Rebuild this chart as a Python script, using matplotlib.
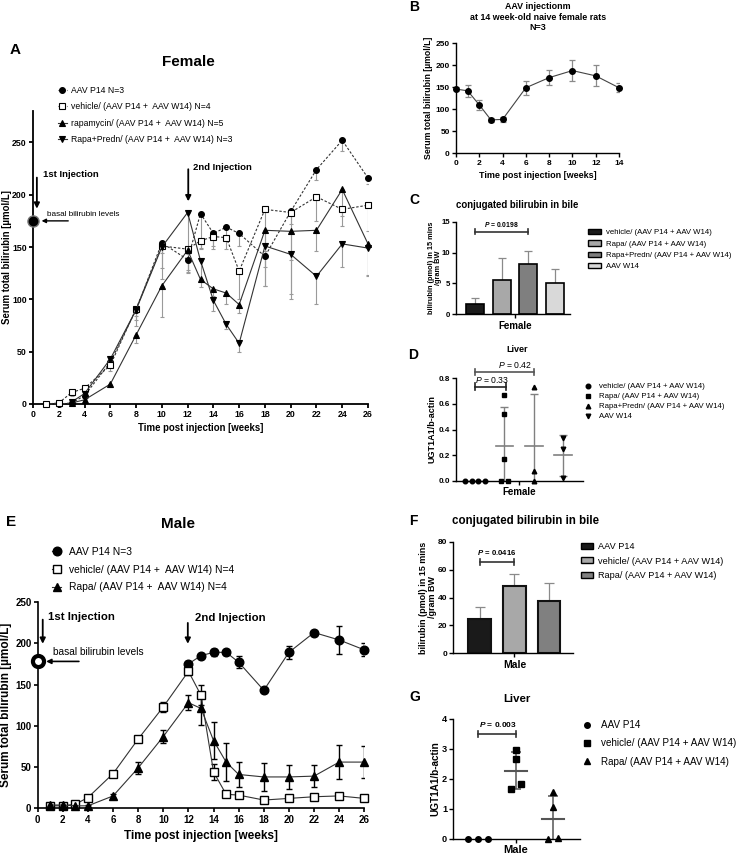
import numpy as np
import matplotlib
matplotlib.use("Agg")
import matplotlib.pyplot as plt
from matplotlib.lines import Line2D
from matplotlib.patches import Patch

plt.rcParams['font.family'] = ['Liberation Sans', 'DejaVu Sans']
plt.rcParams['mathtext.fontset'] = 'custom'
plt.rcParams['mathtext.rm'] = 'Liberation Sans'
plt.rcParams['mathtext.it'] = 'Liberation Sans:italic'
plt.rcParams['mathtext.bfit'] = 'Liberation Sans:italic:bold'

# ---- A: female time course ----
fa_wk = [1, 2, 3, 4, 6, 8, 10, 12, 13, 14, 15, 16, 18, 20, 22, 24, 26]
fa_p14 = [0, 0, 1, 8, 40, 90, 154, 138, 182, 163, 169, 163, 141, 184, 224, 252, 216]
fa_p14_err = [0, 0, 0, 2, 3, 6, 10, 12, 33, 12, 12, 12, 28, 12, 10, 10, 6]
fa_veh = [0, 1, 11, 15, 37, 91, 151, 148, 156, 160, 159, 127, 186, 183, 198, 186, 190]
fa_veh_err = [0, 1, 3, 3, 5, 16, 32, 20, 8, 12, 11, 27, 40, 45, 23, 6, 25]
fa_wk_r = [3, 4, 6, 8, 10, 12, 13, 14, 15, 16, 18, 20, 22, 24, 26]
fa_rapa = [1, 4, 19, 66, 113, 147, 119, 110, 106, 95, 166, 165, 166, 205, 153]
fa_rapa_err = [1, 2, 3, 8, 30, 22, 7, 7, 10, 8, 35, 60, 20, 35, 30]
fa_rp = [2, 10, 43, 90, 150, 183, 137, 99, 76, 58, 151, 143, 122, 153, 149]
fa_rp_err = [1, 3, 5, 10, 20, 40, 20, 10, 4, 8, 38, 43, 26, 22, 27]
fa_basal = 175
fa_labels = ["AAV P14 N=3", "vehicle/ (AAV P14 +  AAV W14) N=4",
             "rapamycin/ (AAV P14 +  AAV W14) N=5", "Rapa+Predn/ (AAV P14 +  AAV W14) N=3"]

# ---- B: naive female rats ----
fb_wk = [0, 1, 2, 3, 4, 6, 8, 10, 12, 14]
fb_bili = [146, 142, 110, 76, 77, 149, 172, 188, 176, 149]
fb_err = [5, 13, 12, 5, 5, 16, 17, 24, 24, 10]

# ---- C: female bile ----
fc_labels = ["vehicle/ (AAV P14 + AAV W14)", "Rapa/ (AAV P14 + AAV W14)",
             "Rapa+Predn/ (AAV P14 + AAV W14)", "AAV W14"]
fc_vals = [1.6, 5.6, 8.1, 5.1]
fc_err = [1.0, 3.6, 2.15, 2.3]
fc_p = "0.0198"

# ---- D: female liver ----
fd_labels = fc_labels
fd_groups = [[0, 0, 0, 0], [0.67, 0.52, 0.17, 0, 0], [0.735, 0.078, 0], [0.33, 0.245, 0.018]]
fd_p = ["0.33", "0.42"]

# ---- E: male time course ----
em_wk_p14 = [12, 13, 14, 15, 16, 18, 20, 22, 24, 26]
em_p14 = [175, 185, 189, 189, 177, 143, 189, 213, 204, 192]
em_p14_err = [3, 2, 4, 3, 7, 2, 8, 2, 17, 8]
em_wk = [1, 2, 3, 4, 6, 8, 10, 12, 13, 14, 15, 16, 18, 20, 22, 24, 26]
em_veh = [3, 3, 5, 13, 42, 84, 123, 166, 137, 44, 17, 16, 10, 12, 14, 15, 12]
em_veh_err = [1, 1, 1, 2, 2, 3, 6, 4, 12, 10, 2, 2, 2, 2, 2, 2, 2]
em_rapa = [4, 4, 3, 3, 15, 49, 87, 128, 121, 82, 56, 41, 38, 38, 39, 56, 56]
em_rapa_err = [1, 1, 1, 1, 2, 7, 8, 9, 20, 22, 23, 15, 17, 15, 13, 21, 19]
em_basal = 178
em_labels = ["AAV P14 N=3", "vehicle/ (AAV P14 +  AAV W14) N=4", "Rapa/ (AAV P14 +  AAV W14) N=4"]

# ---- F: male bile ----
mf_labels = ["AAV P14", "vehicle/ (AAV P14 + AAV W14)", "Rapa/ (AAV P14 + AAV W14)"]
mf_vals = [24.4, 48.3, 37.7]
mf_err = [9.0, 8.3, 12.5]
mf_p = "0.0416"

# ---- G: male liver ----
mg_labels = mf_labels
mg_groups = [[0, 0, 0], [2.97, 2.66, 1.83, 1.67], [1.57, 1.07, 0.04, 0]]
mg_p = "0.003"

W, H = 739, 861
fig = plt.figure(figsize=(W / 100, H / 100), dpi=100)


def px_ax(x0, x1, y0, y1):
    return fig.add_axes([x0 / W, 1 - y1 / H, (x1 - x0) / W, (y1 - y0) / H])


def ftext(x, y, s, **kw):
    fig.text(x / W, 1 - y / H, s, **kw)


def finish(ax, fs, lw=1.0, tl=3):
    ax.spines[['top', 'right']].set_visible(False)
    ax.spines[['left', 'bottom']].set_linewidth(lw)
    ax.tick_params(length=tl, width=lw, labelsize=fs, pad=1.5)
    plt.setp(ax.get_xticklabels() + ax.get_yticklabels(), fontweight='bold')


def leg(handles, labels, x, y, fs, **kw):
    fig.legend(handles, labels, loc='upper left', bbox_to_anchor=(x / W, 1 - y / H),
               frameon=False, fontsize=fs, borderpad=0, borderaxespad=0, **kw)


def bracket(ax, x0, x1, y, h, lw=1.2, color='#333'):
    ax.plot([x0, x1], [y, y], color=color, lw=lw, clip_on=False)
    for xx in (x0, x1):
        ax.plot([xx, xx], [y - h, y + h], color=color, lw=lw, clip_on=False)


def swarm(vals, tol, step):
    vals = np.asarray(vals, float)
    order = np.argsort(vals, kind='stable')
    offs = np.zeros(len(vals))
    i = 0
    while i < len(order):
        j = i
        while j + 1 < len(order) and vals[order[j + 1]] - vals[order[i]] <= tol:
            j += 1
        k = j - i + 1
        for n, idx in enumerate(order[i:j + 1]):
            offs[idx] = (n - (k - 1) / 2) * step
        i = j + 1
    return offs


def injection_marks(ax, basal, a1, a2, fs_big, mk):
    # a1 / a2 : (x, y_start, y_end, text_x, text_y)
    for (x, ys, ye, tx, ty), s in zip((a1, a2), ("1st Injection", "2nd Injection")):
        ax.annotate('', xy=(x, ye), xytext=(x, ys), annotation_clip=False,
                    arrowprops=dict(arrowstyle='-|>', color='black', lw=1.3, mutation_scale=8))
        ax.text(tx, ty, s, fontsize=fs_big, fontweight='bold', va='center')
    ax.plot([0], [basal], **mk, clip_on=False, zorder=5)


# ===================== A =====================
ax = px_ax(33, 368, 111, 404)
ax.set_xlim(0, 26)
ax.set_ylim(0, 280)
ax.set_xticks(range(0, 27, 2))
ax.set_yticks(range(0, 251, 50))
dash = (0, (2.2, 1.6))
a_series = [
    (fa_wk, fa_p14, fa_p14_err, 'o', dash, 'black', 4.2),
    (fa_wk, fa_veh, fa_veh_err, 's', dash, 'white', 5.0),
    (fa_wk_r, fa_rapa, fa_rapa_err, '^', '-', 'black', 4.4),
    (fa_wk_r, fa_rp, fa_rp_err, 'v', '-', 'black', 4.4),
]
a_handles = []
for x, y, e, m, ls, fc, ms in a_series:
    ax.errorbar(x, y, yerr=[e, np.zeros(len(e))], fmt='none', ecolor='#9a9a9a',
                elinewidth=0.8, capsize=1.5, capthick=0.8, zorder=2)
    h, = ax.plot(x, y, ls=ls, color='#333333', lw=0.8, marker=m, ms=ms, mfc=fc,
                 mec='black', mew=0.8, clip_on=False, zorder=3)
    a_handles.append(h)
injection_marks(ax, fa_basal, (0.3, 219, 184, 0.75, 219), (12.05, 227, 191, 12.45, 226),
                6.8, dict(marker='o', ms=8, mfc='black', mec='#777', mew=1.0))
ax.annotate('', xy=(0.45, fa_basal), xytext=(2.95, fa_basal), annotation_clip=False,
            arrowprops=dict(arrowstyle='-|>', color='black', lw=1.0, mutation_scale=6))
ax.text(1.1, 181.5, "basal bilirubin levels", fontsize=5.9, va='center')
ax.set_xlabel("Time post injection [weeks]", fontsize=6.9, fontweight='bold', labelpad=3)
ax.set_ylabel("Serum total bilirubin [µmol/L]", fontsize=6.9, fontweight='bold')
ax.yaxis.set_label_coords(-0.062, 0.5)
finish(ax, 6.3, lw=1.3)
leg(a_handles, fa_labels, 58, 86, 6.2, handlelength=1.0, handletextpad=0.5, labelspacing=0.85)
ftext(10, 50, "A", fontsize=11, fontweight='bold', va='center')
ftext(188, 62, "Female", fontsize=11, fontweight='bold', ha='center', va='center')

# ===================== B =====================
ax = px_ax(456, 619, 43.3, 153.3)
ax.set_xlim(0, 14)
ax.set_ylim(0, 250)
ax.set_xticks(range(0, 15, 2))
ax.set_yticks(range(0, 251, 50))
ax.errorbar(fb_wk, fb_bili, yerr=fb_err, fmt='none', ecolor='#8a8a8a', elinewidth=0.9,
            capsize=2.2, capthick=0.9, zorder=2)
ax.plot(fb_wk, fb_bili, '-', color='#444444', lw=0.8, marker='o', ms=4, mfc='black',
        mec='black', clip_on=False, zorder=3)
ax.set_xlabel("Time post injection [weeks]", fontsize=6.5, fontweight='bold', labelpad=3)
ax.set_ylabel("Serum total bilirubin [µmol/L]", fontsize=6.3, fontweight='bold')
ax.yaxis.set_label_coords(-0.144, 0.5)
finish(ax, 6.0)
ftext(409, 7, "B", fontsize=10, fontweight='bold', va='center')
ftext(538, 17, "AAV injectionm\nat 14 week-old naive female rats\nN=3", fontsize=6.4,
      fontweight='bold', ha='center', va='center', linespacing=1.15)

# ===================== C =====================
c_colors = ['#1a1a1a', '#a8a8a8', '#7f7f7f', '#d9d9d9']
ax = px_ax(456, 570, 221.7, 314.3)
pos = np.arange(len(fc_vals))
ax.set_xlim(-0.71, 3.56)
ax.set_ylim(0, 15)
ax.set_yticks([0, 5, 10, 15])
ax.errorbar(pos, fc_vals, yerr=[np.zeros(len(fc_err)), fc_err], fmt='none', ecolor='#8a8a8a',
            elinewidth=0.9, capsize=3, capthick=0.9, zorder=1)
ax.bar(pos, fc_vals, width=0.675, color=c_colors, edgecolor='black', linewidth=1.2, zorder=2)
ax.set_xticks([1.5])
ax.set_xticklabels(["Female"])
bracket(ax, 0, 2, 13.4, 0.45)
ax.text(1.0, 14.6, r"$\mathbfit{P}$ = " + fc_p, fontsize=4.9, fontweight='bold', ha='center', va='center')
ax.set_ylabel("bilirubin (pmol) in 15 mins\n/gram BW", fontsize=5.3, fontweight='bold',
              linespacing=1.0)
ax.yaxis.set_label_coords(-0.125, 0.5)
finish(ax, 5.6)
plt.setp(ax.get_xticklabels(), fontsize=7)
leg([Patch(facecolor=c, edgecolor='black', lw=1.0) for c in c_colors], fc_labels, 588, 229, 5.6,
    handlelength=1.7, handleheight=0.7, handletextpad=0.6, labelspacing=0.5)
ftext(409, 200, "C", fontsize=10, fontweight='bold', va='center')
ftext(517, 205, "conjugated bilirubin in bile", fontsize=6.9, fontweight='bold', ha='center', va='center')

# ===================== D =====================
d_markers = ['o', 's', '^', 'v']
ax = px_ax(456, 583, 378.3, 480.7)
ax.set_xlim(-0.65, 3.68)
ax.set_ylim(0, 0.8)
ax.set_yticks([0, 0.2, 0.4, 0.6, 0.8])
ax.set_yticklabels(["0.0", "0.2", "0.4", "0.6", "0.8"])
for i, (vals, m) in enumerate(zip(fd_groups, d_markers)):
    off = swarm(vals, 0.05, 0.22)
    ax.plot(i + off, vals, ls='none', marker=m, color='black', ms=3.3, clip_on=False, zorder=3)
    mu, sd = np.mean(vals), np.std(vals, ddof=1)
    if i > 0:
        ax.plot([i - 0.3, i + 0.3], [mu, mu], color='#808080', lw=1.2, zorder=2)
        ax.errorbar(i, mu, yerr=sd, fmt='none', ecolor='#808080', elinewidth=1.0, capsize=3,
                    capthick=1.0, zorder=2)
ax.set_xticks([1.5])
ax.set_xticklabels(["Female"])
bracket(ax, 0, 1.05, 0.735, 0.025, color='#222')
bracket(ax, 0, 2, 0.85, 0.025, color='#555')
ax.text(0, 0.79, r"$\mathit{P}$ = " + fd_p[0], fontsize=6.2, ha='left', va='center')
ax.text(0.78, 0.905, r"$\mathit{P}$ = " + fd_p[1], fontsize=6.2, ha='left', va='center', clip_on=False)
ax.set_ylabel("UGT1A1/b-actin", fontsize=6.5, fontweight='bold')
ax.yaxis.set_label_coords(-0.157, 0.5)
finish(ax, 5.8)
plt.setp(ax.get_xticklabels(), fontsize=7)
leg([Line2D([], [], ls='none', marker=m, color='black', ms=3.3) for m in d_markers], fd_labels,
    584, 383, 5.6, handlelength=1.0, handletextpad=0.9, labelspacing=0.32)
ftext(408, 355, "D", fontsize=10, fontweight='bold', va='center')
ftext(517, 350, "Liver", fontsize=6.5, fontweight='bold', ha='center', va='center')

# ===================== E =====================
ax = px_ax(37.7, 364.3, 602, 808.3)
ax.set_xlim(0, 26)
ax.set_ylim(0, 250)
ax.set_xticks(range(0, 27, 2))
ax.set_yticks(range(0, 251, 50))
e_series = [
    (em_wk_p14, em_p14, em_p14_err, 'o', 'black', 6.2),
    (em_wk, em_veh, em_veh_err, 's', 'white', 6.4),
    (em_wk, em_rapa, em_rapa_err, '^', 'black', 6.0),
]
e_handles = []
for x, y, e, m, fc, ms in e_series:
    ax.errorbar(x, y, yerr=e, fmt='none', ecolor='black', elinewidth=1.0, capsize=2.5,
                capthick=1.0, zorder=2)
    h, = ax.plot(x, y, '-', color='#333333', lw=0.8, marker=m, ms=ms, mfc=fc, mec='black',
                 mew=1.0, clip_on=False, zorder=3)
    e_handles.append(h)
injection_marks(ax, em_basal, (0.4, 232, 196, 0.85, 232), (11.95, 228, 196, 12.5, 230.5),
                8.2, dict(marker='o', ms=8, mfc='white', mec='black', mew=3.0))
ax.annotate('', xy=(0.45, em_basal), xytext=(3.5, em_basal), annotation_clip=False,
            arrowprops=dict(arrowstyle='-|>', color='black', lw=1.2, mutation_scale=7))
ax.text(1.25, 189, "basal bilirubin levels", fontsize=7.3, va='center')
ax.set_xlabel("Time post injection [weeks]", fontsize=8.5, fontweight='bold', labelpad=4)
ax.set_ylabel("Serum total bilirubin [µmol/L]", fontsize=8.5, fontweight='bold')
ax.yaxis.set_label_coords(-0.078, 0.5)
finish(ax, 7.0, lw=1.2)
leg(e_handles, em_labels, 52, 547, 7.4, handlelength=0.9, handletextpad=0.8, labelspacing=0.75)
ftext(6, 522, "E", fontsize=11, fontweight='bold', va='center')
ftext(178, 524, "Male", fontsize=11, fontweight='bold', ha='center', va='center')

# ===================== F =====================
f_colors = ['#1a1a1a', '#a8a8a8', '#808080']
ax = px_ax(453.3, 572.7, 541.7, 653.3)
pos = np.arange(len(mf_vals))
ax.set_xlim(-0.77, 2.69)
ax.set_ylim(0, 80)
ax.set_yticks([0, 20, 40, 60, 80])
ax.errorbar(pos, mf_vals, yerr=[np.zeros(len(mf_err)), mf_err], fmt='none', ecolor='#8a8a8a',
            elinewidth=0.9, capsize=3.5, capthick=0.9, zorder=1)
ax.bar(pos, mf_vals, width=0.66, color=f_colors, edgecolor='#111111', linewidth=1.5, zorder=2)
ax.set_xticks([1])
ax.set_xticklabels(["Male"])
bracket(ax, 0, 1, 65.3, 2.2)
ax.text(0.5, 72, r"$\mathbfit{P}$ = " + mf_p, fontsize=5.6, fontweight='bold', ha='center', va='center')
ax.set_ylabel("bilirubin (pmol) in 15 mins\n/gram BW", fontsize=6.5, fontweight='bold',
              linespacing=1.0)
ax.yaxis.set_label_coords(-0.137, 0.5)
finish(ax, 6.0)
plt.setp(ax.get_xticklabels(), fontsize=7.5)
leg([Patch(facecolor=c, edgecolor='black', lw=1.0) for c in f_colors], mf_labels, 581, 542, 6.6,
    handlelength=1.3, handleheight=0.6, handletextpad=0.6, labelspacing=0.6)
ftext(409, 521, "F", fontsize=10, fontweight='bold', va='center')
ftext(525, 521, "conjugated bilirubin in bile", fontsize=8.3, fontweight='bold', ha='center', va='center')

# ===================== G =====================
g_markers = ['o', 's', '^']
ax = px_ax(453.3, 580, 719, 839)
ax.set_xlim(-0.67, 2.72)
ax.set_ylim(0, 4)
ax.set_yticks([0, 1, 2, 3, 4])
for i, (vals, m) in enumerate(zip(mg_groups, g_markers)):
    off = swarm(vals, 0.2, 0.27)
    ax.plot(i + off, vals, ls='none', marker=m, color='black', ms=4, clip_on=False, zorder=3)
    mu, sd = np.mean(vals), np.std(vals, ddof=1)
    if i > 0:
        ax.plot([i - 0.3, i + 0.3], [mu, mu], color='#555555', lw=1.5, zorder=2)
        ax.errorbar(i, mu, yerr=sd, fmt='none', ecolor='#555555', elinewidth=1.1, capsize=3.5,
                    capthick=1.1, zorder=2)
ax.set_xticks([1])
ax.set_xticklabels(["Male"])
bracket(ax, 0, 1, 3.49, 0.1)
ax.text(0.52, 3.82, r"$\mathbfit{P}$ = " + mg_p, fontsize=6.0, fontweight='bold', ha='center', va='center')
ax.set_ylabel("UGT1A1/b-actin", fontsize=7.2, fontweight='bold')
ax.yaxis.set_label_coords(-0.105, 0.5)
finish(ax, 6.6)
plt.setp(ax.get_xticklabels(), fontsize=8)
leg([Line2D([], [], ls='none', marker=m, color='black', ms=4) for m in g_markers], mg_labels,
    582, 720, 7.1, handlelength=1.0, handletextpad=0.9, labelspacing=0.85)
ftext(409, 697, "G", fontsize=10, fontweight='bold', va='center')
ftext(517, 699, "Liver", fontsize=8.2, fontweight='bold', ha='center', va='center')

fig.savefig("out.png", dpi=100, facecolor='white')
